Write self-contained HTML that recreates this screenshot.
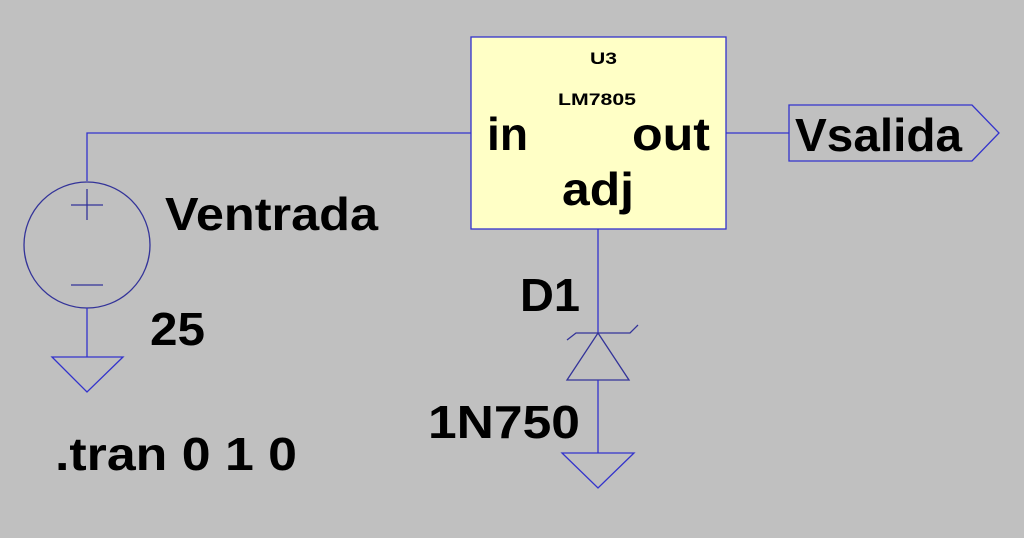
<!DOCTYPE html>
<html><head><style>
body{margin:0;background:#c0c0c0;width:1024px;height:538px;overflow:hidden}
svg{display:block}
text{font-family:"Liberation Sans","DejaVu Sans",sans-serif;font-weight:bold;fill:#000}
</style></head><body>
<svg width="1024" height="538" viewBox="0 0 1024 538">
<g stroke="#3333cc" stroke-width="1.3" fill="none">
<polyline points="87,181 87,133 471,133"/>
<circle cx="87" cy="245" r="63" stroke="#333399"/>
<line x1="71" y1="205" x2="103" y2="205" stroke="#333399"/>
<line x1="87" y1="189" x2="87" y2="220" stroke="#333399"/>
<line x1="71" y1="285" x2="103" y2="285" stroke="#333399"/>
<line x1="87" y1="308" x2="87" y2="357"/>
<polygon points="52,357 123,357 87,392"/>
<rect x="471" y="37" width="255" height="192" fill="#ffffc6" stroke="#3333cc"/>
<line x1="726" y1="133" x2="789" y2="133"/>
<polygon points="789,105 972,105 999,133 972,161 789,161"/>
<line x1="598" y1="229" x2="598" y2="333"/>
<polyline points="567,340 576,333 630,333 638,325" stroke="#333399"/>
<polygon points="598,333 629,380 567,380" stroke="#333399"/>
<line x1="598" y1="380" x2="598" y2="453"/>
<polygon points="562,453 634,453 598,488"/>
</g>
<g lengthAdjust="spacingAndGlyphs">
<text x="590" y="64" font-size="17" textLength="27" lengthAdjust="spacingAndGlyphs">U3</text>
<text x="558" y="105" font-size="17" textLength="78" lengthAdjust="spacingAndGlyphs">LM7805</text>
<text x="487" y="150" font-size="46" textLength="41" lengthAdjust="spacingAndGlyphs">in</text>
<text x="632" y="150" font-size="46" textLength="78" lengthAdjust="spacingAndGlyphs">out</text>
<text x="562" y="205" font-size="46" textLength="72" lengthAdjust="spacingAndGlyphs">adj</text>
<text x="795" y="151" font-size="46" textLength="167" lengthAdjust="spacingAndGlyphs">Vsalida</text>
<text x="165" y="230" font-size="46" textLength="213" lengthAdjust="spacingAndGlyphs">Ventrada</text>
<text x="150" y="345" font-size="46" textLength="55" lengthAdjust="spacingAndGlyphs">25</text>
<text x="55" y="470" font-size="46" textLength="242" lengthAdjust="spacingAndGlyphs">.tran 0 1 0</text>
<text x="520" y="311" font-size="46" textLength="60" lengthAdjust="spacingAndGlyphs">D1</text>
<text x="428" y="438" font-size="46" textLength="152" lengthAdjust="spacingAndGlyphs">1N750</text>
</g>
</svg>
</body></html>
